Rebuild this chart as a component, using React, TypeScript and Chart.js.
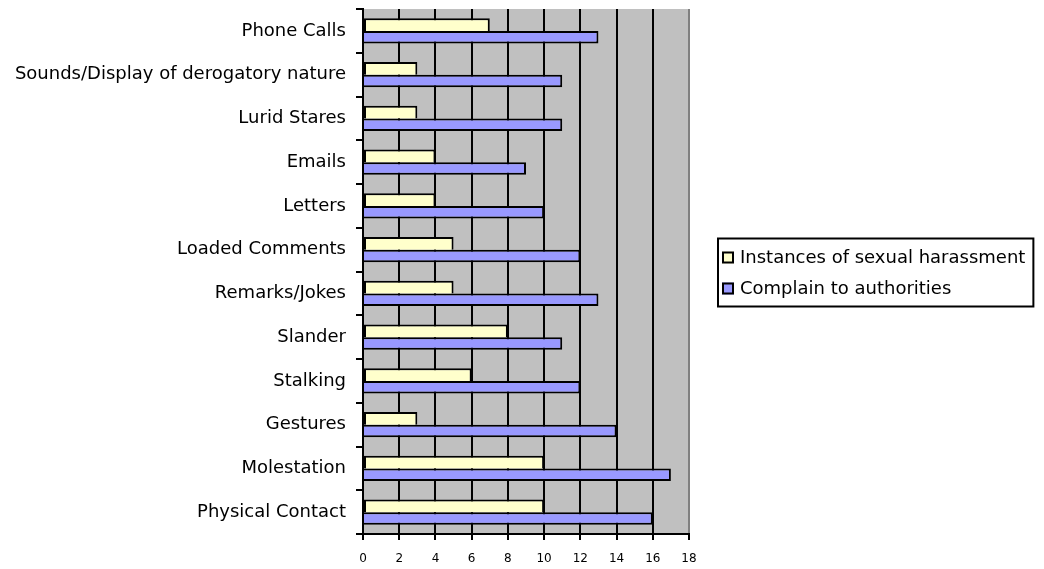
import React, { useEffect, useRef } from "react";
import { Chart, registerables } from "chart.js";

Chart.register(...registerables);

const categories = [
  "Phone Calls",
  "Sounds/Display of derogatory nature",
  "Lurid Stares",
  "Emails",
  "Letters",
  "Loaded Comments",
  "Remarks/Jokes",
  "Slander",
  "Stalking",
  "Gestures",
  "Molestation",
  "Physical Contact",
];
const instances = [7, 3, 3, 4, 4, 5, 5, 8, 6, 3, 10, 10];
const complaints = [13, 11, 11, 9, 10, 12, 13, 11, 12, 14, 17, 16];
const seriesNames = ["Instances of sexual harassment", "Complain to authorities"];
const xMin = 0;
const xMax = 18;
const xStep = 2;

const FONT = "DejaVu Sans";

const plotBg = {
  id: "plotBg",
  beforeDraw(chart: any) {
    const { ctx, chartArea } = chart;
    ctx.save();
    ctx.fillStyle = "#C0C0C0";
    ctx.fillRect(chartArea.left, chartArea.top, chartArea.right - chartArea.left, chartArea.bottom - chartArea.top);
    ctx.restore();
  },
};

// Boxed legend to the right of the plot, built from the datasets.
const boxedLegend = {
  id: "boxedLegend",
  afterDraw(chart: any) {
    const { ctx, chartArea } = chart;
    const ds = chart.data.datasets;
    ctx.save();
    ctx.font = `18px "${FONT}"`;
    const widths = ds.map((d: any) => ctx.measureText(d.label).width);
    const maxW = Math.max(...widths);
    const left = chartArea.right + 29;
    const rowGap = 31;
    const boxH = 19 + rowGap * (ds.length - 1) + 18;
    const top = (chartArea.top + chartArea.bottom) / 2 - boxH / 2 + 1;
    const boxW = 4 + 12 + 6 + maxW + 8;
    ctx.lineWidth = 2;
    ctx.strokeStyle = "#000";
    ctx.strokeRect(left, top, boxW, boxH);
    ds.forEach((d: any, i: number) => {
      const cy = top + 19 + i * rowGap;
      const bx = left + 4;
      ctx.fillStyle = d.backgroundColor;
      ctx.fillRect(bx, cy - 6, 12, 12);
      ctx.lineWidth = 2;
      ctx.strokeStyle = "#000";
      ctx.strokeRect(bx + 1, cy - 5, 10, 10);
      ctx.fillStyle = "#000";
      ctx.textBaseline = "middle";
      ctx.textAlign = "left";
      ctx.fillText(d.label, bx + 12 + 6, cy + 1);
    });
    ctx.restore();
  },
};

export default function App() {
  const ref = useRef<HTMLCanvasElement | null>(null);
  useEffect(() => {
    if (!ref.current) return;
    const chart = new Chart(ref.current, {
      type: "bar",
      data: {
        labels: categories,
        datasets: [
          {
            label: seriesNames[0],
            data: instances,
            backgroundColor: "#FFFFCC",
            borderColor: "#000",
            borderWidth: 2,
            borderSkipped: "bottom",
            categoryPercentage: 0.58,
            barPercentage: 1,
          },
          {
            label: seriesNames[1],
            data: complaints,
            backgroundColor: "#9999FF",
            borderColor: "#000",
            borderWidth: 2,
            borderSkipped: "start",
            categoryPercentage: 0.58,
            barPercentage: 1,
          },
        ],
      },
      options: {
        indexAxis: "y",
        animation: false,
        responsive: false,
        layout: { padding: { top: 9, right: 355, bottom: 0, left: 0 } },
        plugins: {
          tooltip: { enabled: false },
          legend: { display: false },
        },
        scales: {
          x: {
            type: "linear",
            min: xMin,
            max: xMax,
            ticks: {
              stepSize: xStep,
              color: "#000",
              padding: 12,
              font: { family: FONT, size: 12 },
            },
            grid: {
              color: (c: any) => (c.tick && c.tick.value === xMax ? "#808080" : "#000"),
              lineWidth: 2,
              tickColor: "#000",
              tickLength: 6,
            },
            border: { color: "#000", width: 2 },
            afterFit(s: any) {
              s.height = 35;
            },
          },
          y: {
            type: "category",
            offset: true,
            ticks: {
              color: "#000",
              padding: 10,
              autoSkip: false,
              font: { family: FONT, size: 18 },
            },
            grid: {
              offset: true,
              drawOnChartArea: false,
              drawTicks: true,
              tickLength: 7,
              color: "#000",
              lineWidth: 2,
            },
            border: { color: "#000", width: 2 },
            afterFit(s: any) {
              s.width = 363;
              s.paddingTop = 0;
              s.paddingBottom = 0;
            },
          },
        },
      },
      plugins: [plotBg, boxedLegend],
    } as any);
    return () => chart.destroy();
  }, []);
  return (
    <div style={{ position: "absolute", left: 0, top: 0, width: 1044, height: 569, background: "#fff" }}>
      <canvas ref={ref} width={1044} height={569} style={{ display: "block" }} />
    </div>
  );
}
